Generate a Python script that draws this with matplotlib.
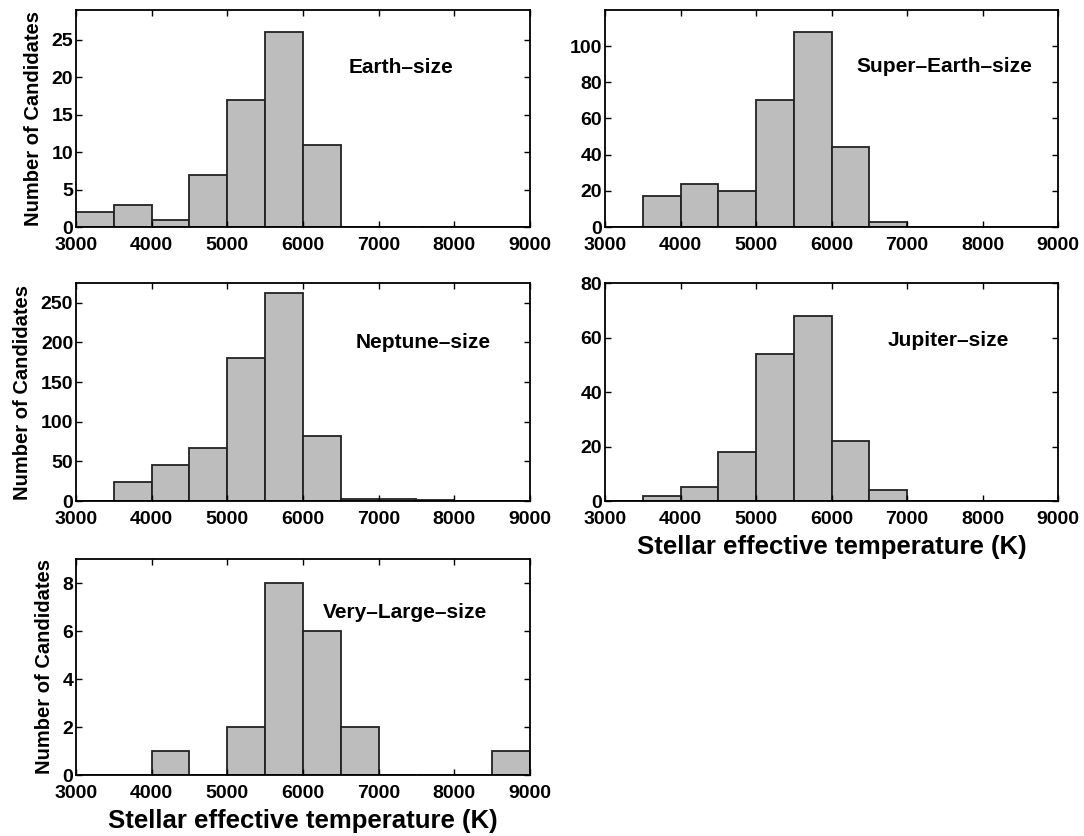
import matplotlib
matplotlib.use("Agg")
import matplotlib.pyplot as plt
import numpy as np

plt.rcParams['font.family'] = ['Liberation Sans', 'DejaVu Sans']
plt.rcParams['font.weight'] = 'bold'

# bin edges of the temperature histogram (K)
edges = np.arange(3000, 9001, 500)

earth = [2, 3, 1, 7, 17, 26, 11, 0, 0, 0, 0, 0]
super_earth = [0, 17, 24, 20, 70, 108, 44, 3, 0, 0, 0, 0]
neptune = [0, 24, 45, 67, 180, 262, 82, 3, 2, 1, 0, 0]
jupiter = [0, 2, 5, 18, 54, 68, 22, 4, 0, 0, 0, 0]
very_large = [0, 0, 1, 0, 2, 8, 6, 2, 0, 0, 0, 1]

names = ["Earth\u2013size", "Super\u2013Earth\u2013size", "Neptune\u2013size",
         "Jupiter\u2013size", "Very\u2013Large\u2013size"]
ylims = [29, 120, 275, 80, 9]
yticks = [np.arange(0, 26, 5), np.arange(0, 101, 20), np.arange(0, 251, 50),
          np.arange(0, 81, 20), np.arange(0, 9, 2)]
series = [earth, super_earth, neptune, jupiter, very_large]

W, H = 1084, 836
fig = plt.figure(figsize=(W / 100, H / 100), dpi=100)

# panel boxes in pixels: left, top, right, bottom
boxes = [(76, 10, 530, 227), (605, 10, 1058, 227),
         (76, 283, 530, 501), (605, 283, 1058, 501),
         (76, 559, 530, 775)]
text_pos = [(0.60, 0.736), (0.556, 0.74), (0.615, 0.728), (0.625, 0.737), (0.543, 0.75)]

for i, (l, t, r, b) in enumerate(boxes):
    ax = fig.add_axes([l / W, (H - b) / H, (r - l) / W, (b - t) / H])
    ax.bar(edges[:-1], series[i], width=500, align='edge',
           color='#bdbdbd', edgecolor='#222222', linewidth=1.3)
    ax.set_xlim(3000, 9000)
    ax.set_ylim(0, ylims[i])
    ax.set_xticks(np.arange(3000, 9001, 1000))
    ax.set_yticks(yticks[i])
    ax.tick_params(direction='in', top=True, right=True, length=4,
                   labelsize=14, width=1, pad=2)
    ax.tick_params(axis='x', pad=7)
    for lab in ax.get_xticklabels() + ax.get_yticklabels():
        lab.set_fontweight('bold')
    for s in ax.spines.values():
        s.set_linewidth(1.3)
    ax.text(text_pos[i][0], text_pos[i][1], names[i], transform=ax.transAxes,
            ha='left', va='center', fontsize=15, fontweight='bold')
    if i in (0, 2, 4):
        ax.set_ylabel("Number of Candidates", fontsize=14.5, fontweight='bold', labelpad=6)
    if i in (3, 4):
        ax.set_xlabel("Stellar effective temperature (K)", fontsize=18.5,
                      fontweight='bold', labelpad=5)

fig.savefig("out.png", dpi=100)
